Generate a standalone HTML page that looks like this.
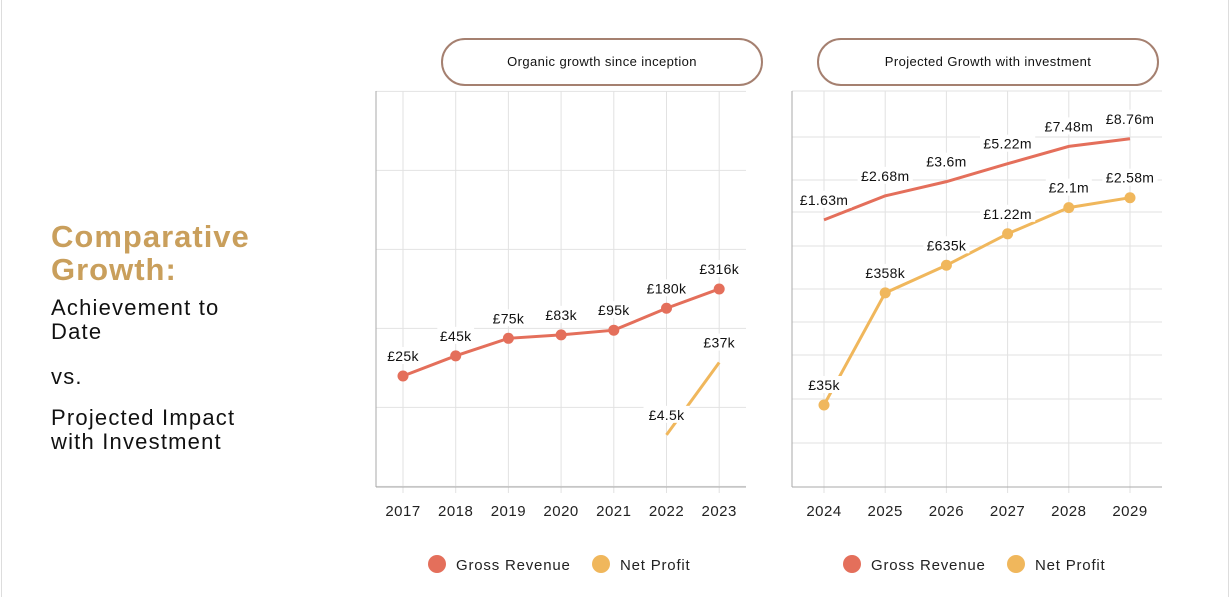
<!DOCTYPE html>
<html><head><meta charset="utf-8"><style>
html,body{margin:0;padding:0;background:#fff}
body{width:1230px;height:598px;position:relative;overflow:hidden;font-family:"Liberation Sans",sans-serif}
#frame{position:absolute;left:1px;top:0;width:1226px;height:597px;border:1px solid #ddd;border-top:none;border-bottom:none}
.pill{position:absolute;border:2px solid #a58070;border-radius:24px;text-align:center;font-size:13px;letter-spacing:0.4px;color:#111;box-sizing:border-box}
#title{position:absolute;left:51px;top:220px;color:#c99f5c;font-weight:bold;font-size:31px;letter-spacing:1px;line-height:33px}
.txt{position:absolute;left:51px;font-size:22px;letter-spacing:1.2px;line-height:24px;color:#111}
</style></head><body>
<div id="frame"></div>
<div id="title">Comparative<br>Growth:</div>
<div class="txt" style="top:296px">Achievement to<br>Date</div>
<div class="txt" style="top:365px">vs.</div>
<div class="txt" style="top:406px">Projected Impact<br>with Investment</div>
<div class="pill" style="left:441px;top:38px;width:322px;height:48px;line-height:44px">Organic growth since inception</div>
<div class="pill" style="left:817px;top:38px;width:342px;height:48px;line-height:44px">Projected Growth with investment</div>
<svg id="svg" width="1230" height="598" style="position:absolute;left:0;top:0"></svg>
<script>
const leftYears=['2017','2018','2019','2020','2021','2022','2023'];
const leftRevenue=[25000,45000,75000,83000,95000,180000,316000];
const leftRevenueLabels=['£25k','£45k','£75k','£83k','£95k','£180k','£316k'];
const leftProfit=[null,null,null,null,null,4500,37000];
const leftProfitLabels=['','','','','','£4.5k','£37k'];
const rightYears=['2024','2025','2026','2027','2028','2029'];
const rightRevenue=[1630000,2680000,3600000,5220000,7480000,8760000];
const rightRevenueLabels=['£1.63m','£2.68m','£3.6m','£5.22m','£7.48m','£8.76m'];
const rightProfit=[35000,358000,635000,1220000,2100000,2580000];
const rightProfitLabels=['£35k','£358k','£635k','£1.22m','£2.1m','£2.58m'];
const leftGridVals=[1e3,1e4,1e5,1e6,1e7,1e8];

const NS='http://www.w3.org/2000/svg';
const svg=document.getElementById('svg');
function mk(t,a,p){const e=document.createElementNS(NS,t);for(const k in a)e.setAttribute(k,a[k]);(p||svg).appendChild(e);return e;}
const RED='#e46f5b',YEL='#f0b75c';

function chart(cfg){
  const g=mk('g',{});
  
  
  const x=i=>cfg.x0+i*cfg.step;
  const y=v=>cfg.yRef-(Math.log10(v)-Math.log10(cfg.vRef))*cfg.ppd;
  cfg.hgrid.forEach(gy=>{const l=mk('line',{x1:cfg.left,x2:cfg.right,y1:gy,y2:gy,stroke:'#e2e2e2','stroke-width':1},g);
    });
  cfg.years.forEach((yr,i)=>{const l=mk('line',{x1:x(i),x2:x(i),y1:91,y2:493,stroke:'#e2e2e2','stroke-width':1},g);
    
    const t=mk('text',{x:x(i),y:516,'text-anchor':'middle','font-size':15,'letter-spacing':0.5,fill:'#222'},g);t.textContent=yr;
    });
  const ax=mk('line',{x1:cfg.left,x2:cfg.left,y1:91,y2:487,stroke:'#aaa','stroke-width':1},g);
  
  const bx=mk('line',{x1:cfg.left,x2:cfg.right,y1:487,y2:487,stroke:'#aaa','stroke-width':1},g);
  
  cfg.series.forEach(s=>{
    const pts=[];s.vals.forEach((v,i)=>{if(v!=null)pts.push([x(i),y(v),i]);});
    const p=mk('polyline',{points:pts.map(q=>q[0]+','+q[1]).join(' '),fill:'none',stroke:s.color,'stroke-width':3},g);
    
    pts.forEach(q=>{
      if(s.dots){const c=mk('circle',{cx:q[0],cy:q[1],r:5.5,fill:s.color},g);
        }
      const lb=s.labels[q[2]];
      const bg=mk('rect',{x:q[0]-lb.length*4.6,y:q[1]-29,width:lb.length*9.2,height:17,fill:'#fff'},g);
      
      const t=mk('text',{x:q[0],y:q[1]-15,'text-anchor':'middle','font-size':14,'letter-spacing':0.3,fill:'#111'},g);t.textContent=lb;
      
    });
  });
}
chart({name:'organic-growth-chart',years:leftYears,x0:403,step:52.7,left:376,right:746,
  yRef:376,vRef:25000,ppd:79,hgrid:leftGridVals.map(v=>376-(Math.log10(v)-Math.log10(25000))*79),
  series:[{name:'gross-revenue',vals:leftRevenue,labels:leftRevenueLabels,color:RED,dots:true},
          {name:'net-profit',vals:leftProfit,labels:leftProfitLabels,color:YEL,dots:false}]});
chart({name:'projected-growth-chart',years:rightYears,x0:824,step:61.2,left:792,right:1162,
  yRef:405,vRef:35000,ppd:111,hgrid:[91,137,180,212,246,289,322,355,399,443],
  series:[{name:'gross-revenue',vals:rightRevenue,labels:rightRevenueLabels,color:RED,dots:false},
          {name:'net-profit',vals:rightProfit,labels:rightProfitLabels,color:YEL,dots:true}]});

function legend(cx,nm){
  const g=mk('g',{});
  [[cx,RED,'Gross Revenue'],[cx+164,YEL,'Net Profit']].forEach(e=>{
    const c=mk('circle',{cx:e[0],cy:564,r:9,fill:e[1]},g);
    
    const t=mk('text',{x:e[0]+19,y:570,'font-size':15,'letter-spacing':0.8,fill:'#222'},g);t.textContent=e[2];
    
  });
}
legend(437,'legend-left');legend(852,'legend-right');
</script>
</body></html>
